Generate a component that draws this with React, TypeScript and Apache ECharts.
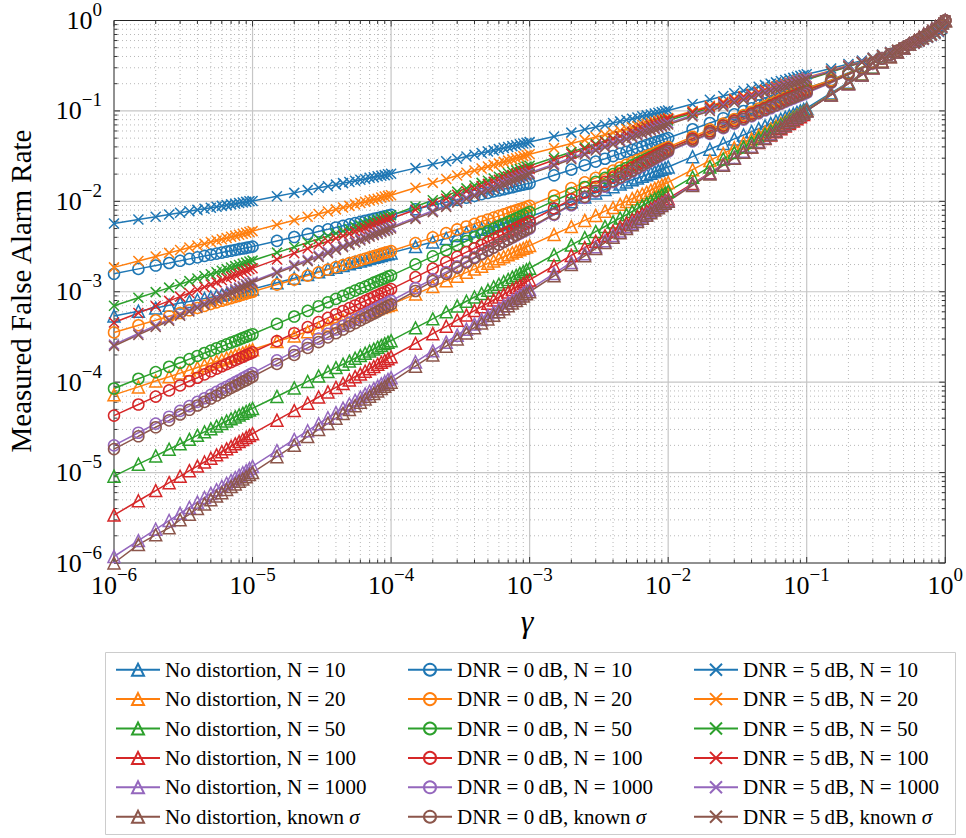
import React, { useEffect, useRef } from 'react';
import * as echarts from 'echarts';

// Detector threshold gamma (18 points per decade, linear steps of 0.5 within each decade)
const gamma = [
  1e-6, 1.5e-6, 2e-6, 2.5e-6, 3e-6, 3.5e-6, 4e-6, 4.5e-6, 5e-6, 5.5e-6, 6e-6, 6.5e-6, 7e-6, 7.5e-6, 8e-6, 8.5e-6, 9e-6, 9.5e-6,
  1e-5, 1.5e-5, 2e-5, 2.5e-5, 3e-5, 3.5e-5, 4e-5, 4.5e-5, 5e-5, 5.5e-5, 6e-5, 6.5e-5, 7e-5, 7.5e-5, 8e-5, 8.5e-5, 9e-5, 9.5e-5,
  1e-4, 1.5e-4, 2e-4, 2.5e-4, 3e-4, 3.5e-4, 4e-4, 4.5e-4, 5e-4, 5.5e-4, 6e-4, 6.5e-4, 7e-4, 7.5e-4, 8e-4, 8.5e-4, 9e-4, 9.5e-4,
  1e-3, 1.5e-3, 2e-3, 2.5e-3, 3e-3, 3.5e-3, 4e-3, 4.5e-3, 5e-3, 5.5e-3, 6e-3, 6.5e-3, 7e-3, 7.5e-3, 8e-3, 8.5e-3, 9e-3, 9.5e-3,
  1e-2, 1.5e-2, 2e-2, 2.5e-2, 3e-2, 3.5e-2, 4e-2, 4.5e-2, 5e-2, 5.5e-2, 6e-2, 6.5e-2, 7e-2, 7.5e-2, 8e-2, 8.5e-2, 9e-2, 9.5e-2,
  0.1, 0.15, 0.2, 0.25, 0.3, 0.35, 0.4, 0.45, 0.5, 0.55, 0.6, 0.65, 0.7, 0.75, 0.8, 0.85, 0.9, 0.95, 1,
];

// No distortion
const noDistN10 = [
  5.4e-4, 6.1e-4, 6.6e-4, 7.1e-4, 7.5e-4, 7.8e-4, 8.1e-4, 8.4e-4, 8.7e-4, 9.0e-4, 9.2e-4, 9.4e-4, 9.6e-4, 9.8e-4, 1.0e-3, 1.02e-3, 1.04e-3, 1.05e-3,
  1.07e-3, 1.26e-3, 1.41e-3, 1.55e-3, 1.66e-3, 1.77e-3, 1.87e-3, 1.95e-3, 2.04e-3, 2.12e-3, 2.19e-3, 2.26e-3, 2.33e-3, 2.40e-3, 2.46e-3, 2.52e-3, 2.58e-3, 2.64e-3,
  2.69e-3, 3.16e-3, 3.55e-3, 3.88e-3, 4.18e-3, 4.45e-3, 4.69e-3, 4.91e-3, 5.13e-3, 5.32e-3, 5.51e-3, 5.69e-3, 5.86e-3, 6.03e-3, 6.18e-3, 6.34e-3, 6.49e-3, 6.62e-3,
  6.76e-3, 8.45e-3, 9.91e-3, 1.12e-2, 1.24e-2, 1.35e-2, 1.45e-2, 1.55e-2, 1.64e-2, 1.73e-2, 1.81e-2, 1.89e-2, 1.97e-2, 2.05e-2, 2.12e-2, 2.19e-2, 2.26e-2, 2.33e-2,
  2.40e-2, 3.12e-2, 3.77e-2, 4.36e-2, 4.90e-2, 5.42e-2, 5.90e-2, 6.37e-2, 6.82e-2, 7.26e-2, 7.69e-2, 8.09e-2, 8.49e-2, 8.89e-2, 9.27e-2, 9.64e-2, 0.100, 0.104,
  0.107, 0.158, 0.207, 0.256, 0.305, 0.353, 0.402, 0.451, 0.5, 0.549, 0.598, 0.647, 0.695, 0.744, 0.793, 0.842, 0.893, 0.94, 1,
];
const noDistN20 = [
  7.24e-5, 8.87e-5, 1.03e-4, 1.15e-4, 1.26e-4, 1.36e-4, 1.45e-4, 1.54e-4, 1.62e-4, 1.70e-4, 1.77e-4, 1.85e-4, 1.92e-4, 1.99e-4, 2.05e-4, 2.11e-4, 2.17e-4, 2.23e-4,
  2.29e-4, 2.81e-4, 3.24e-4, 3.62e-4, 3.97e-4, 4.29e-4, 4.58e-4, 4.86e-4, 5.12e-4, 5.37e-4, 5.61e-4, 5.83e-4, 6.07e-4, 6.28e-4, 6.49e-4, 6.68e-4, 6.87e-4, 7.06e-4,
  7.24e-4, 9.42e-4, 1.14e-3, 1.32e-3, 1.48e-3, 1.64e-3, 1.78e-3, 1.92e-3, 2.06e-3, 2.19e-3, 2.32e-3, 2.44e-3, 2.56e-3, 2.69e-3, 2.80e-3, 2.91e-3, 3.02e-3, 3.13e-3,
  3.24e-3, 4.30e-3, 5.26e-3, 6.15e-3, 6.98e-3, 7.78e-3, 8.53e-3, 9.27e-3, 9.98e-3, 1.07e-2, 1.14e-2, 1.20e-2, 1.26e-2, 1.33e-2, 1.39e-2, 1.45e-2, 1.51e-2, 1.56e-2,
  1.62e-2, 2.24e-2, 2.82e-2, 3.37e-2, 3.91e-2, 4.42e-2, 4.92e-2, 5.40e-2, 5.87e-2, 6.34e-2, 6.81e-2, 7.24e-2, 7.69e-2, 8.13e-2, 8.55e-2, 8.99e-2, 9.40e-2, 9.82e-2,
  0.103, 0.154, 0.204, 0.254, 0.303, 0.352, 0.401, 0.45, 0.5, 0.55, 0.599, 0.648, 0.697, 0.746, 0.796, 0.846, 0.897, 0.948, 1,
];
const noDistN50 = [
  9.12e-6, 1.24e-5, 1.53e-5, 1.81e-5, 2.08e-5, 2.33e-5, 2.58e-5, 2.82e-5, 3.05e-5, 3.27e-5, 3.50e-5, 3.72e-5, 3.93e-5, 4.13e-5, 4.34e-5, 4.54e-5, 4.74e-5, 4.93e-5,
  5.13e-5, 6.95e-5, 8.63e-5, 1.02e-4, 1.17e-4, 1.31e-4, 1.45e-4, 1.58e-4, 1.71e-4, 1.84e-4, 1.97e-4, 2.09e-4, 2.21e-4, 2.32e-4, 2.44e-4, 2.55e-4, 2.67e-4, 2.77e-4,
  2.88e-4, 3.99e-4, 5.02e-4, 6.0e-4, 6.95e-4, 7.85e-4, 8.75e-4, 9.59e-4, 1.04e-3, 1.13e-3, 1.21e-3, 1.29e-3, 1.37e-3, 1.45e-3, 1.52e-3, 1.60e-3, 1.67e-3, 1.75e-3,
  1.82e-3, 2.57e-3, 3.28e-3, 3.96e-3, 4.63e-3, 5.27e-3, 5.92e-3, 6.53e-3, 7.14e-3, 7.74e-3, 8.34e-3, 8.93e-3, 9.51e-3, 1.01e-2, 1.07e-2, 1.12e-2, 1.18e-2, 1.23e-2,
  1.29e-2, 1.85e-2, 2.40e-2, 2.94e-2, 3.46e-2, 3.98e-2, 4.49e-2, 4.99e-2, 5.48e-2, 5.97e-2, 6.46e-2, 6.95e-2, 7.43e-2, 7.91e-2, 8.37e-2, 8.83e-2, 9.31e-2, 9.77e-2,
  0.102, 0.152, 0.202, 0.252, 0.302, 0.351, 0.401, 0.45, 0.5, 0.55, 0.599, 0.649, 0.698, 0.748, 0.798, 0.848, 0.898, 0.948, 1,
];
const noDistN100 = [
  3.39e-6, 4.88e-6, 6.32e-6, 7.73e-6, 9.10e-6, 1.05e-5, 1.18e-5, 1.31e-5, 1.44e-5, 1.57e-5, 1.70e-5, 1.83e-5, 1.95e-5, 2.08e-5, 2.20e-5, 2.32e-5, 2.45e-5, 2.57e-5,
  2.69e-5, 3.80e-5, 4.85e-5, 5.86e-5, 6.85e-5, 7.80e-5, 8.75e-5, 9.66e-5, 1.06e-4, 1.15e-4, 1.23e-4, 1.32e-4, 1.41e-4, 1.49e-4, 1.58e-4, 1.66e-4, 1.74e-4, 1.82e-4,
  1.91e-4, 2.69e-4, 3.44e-4, 4.15e-4, 4.85e-4, 5.52e-4, 6.19e-4, 6.84e-4, 7.48e-4, 8.11e-4, 8.73e-4, 9.35e-4, 9.95e-4, 1.06e-3, 1.12e-3, 1.17e-3, 1.23e-3, 1.29e-3,
  1.35e-3, 1.94e-3, 2.52e-3, 3.07e-3, 3.62e-3, 4.17e-3, 4.70e-3, 5.22e-3, 5.74e-3, 6.25e-3, 6.76e-3, 7.28e-3, 7.78e-3, 8.28e-3, 8.77e-3, 9.25e-3, 9.75e-3, 1.02e-2,
  1.07e-2, 1.57e-2, 2.07e-2, 2.56e-2, 3.04e-2, 3.52e-2, 4.0e-2, 4.48e-2, 4.94e-2, 5.41e-2, 5.87e-2, 6.34e-2, 6.81e-2, 7.26e-2, 7.73e-2, 8.18e-2, 8.63e-2, 9.10e-2,
  0.101, 0.151, 0.201, 0.251, 0.301, 0.351, 0.4, 0.45, 0.5, 0.55, 0.6, 0.649, 0.699, 0.749, 0.799, 0.849, 0.899, 0.949, 1,
];
const noDistN1000 = [
  1.18e-6, 1.77e-6, 2.36e-6, 2.95e-6, 3.54e-6, 4.12e-6, 4.71e-6, 5.3e-6, 5.88e-6, 6.46e-6, 7.04e-6, 7.62e-6, 8.2e-6, 8.78e-6, 9.37e-6, 9.95e-6, 1.05e-5, 1.11e-5,
  1.17e-5, 1.75e-5, 2.33e-5, 2.9e-5, 3.47e-5, 4.04e-5, 4.6e-5, 5.17e-5, 5.73e-5, 6.29e-5, 6.84e-5, 7.39e-5, 7.94e-5, 8.49e-5, 9.04e-5, 9.58e-5, 1.01e-4, 1.07e-4,
  1.12e-4, 1.67e-4, 2.22e-4, 2.77e-4, 3.31e-4, 3.85e-4, 4.39e-4, 4.92e-4, 5.45e-4, 5.98e-4, 6.5e-4, 7.02e-4, 7.54e-4, 8.06e-4, 8.57e-4, 9.08e-4, 9.59e-4, 1.01e-3,
  1.06e-3, 1.59e-3, 2.11e-3, 2.63e-3, 3.15e-3, 3.67e-3, 4.19e-3, 4.7e-3, 5.22e-3, 5.73e-3, 6.24e-3, 6.75e-3, 7.26e-3, 7.77e-3, 8.27e-3, 8.78e-3, 9.28e-3, 9.79e-3,
  1.025e-2, 1.54e-2, 2.05e-2, 2.55e-2, 3.06e-2, 3.57e-2, 4.07e-2, 4.58e-2, 5.08e-2, 5.58e-2, 6.08e-2, 6.59e-2, 7.09e-2, 7.59e-2, 8.09e-2, 8.59e-2, 9.09e-2, 9.57e-2,
  0.1005, 0.1505, 0.2, 0.25, 0.3, 0.35, 0.4, 0.45, 0.5, 0.55, 0.6, 0.65, 0.7, 0.75, 0.8, 0.85, 0.9, 0.95, 1,
];
const noDistKnown = [
  1.0e-6, 1.6e-6, 2.05e-6, 2.45e-6, 3.0e-6, 3.45e-6, 4.0e-6, 4.5e-6, 5.0e-6, 5.5e-6, 6.0e-6, 6.5e-6, 7.0e-6, 7.5e-6, 8.0e-6, 8.5e-6, 9.0e-6, 9.5e-6,
  1e-5, 1.5e-5, 2e-5, 2.5e-5, 3e-5, 3.5e-5, 4e-5, 4.5e-5, 5e-5, 5.5e-5, 6e-5, 6.5e-5, 7e-5, 7.5e-5, 8e-5, 8.5e-5, 9e-5, 9.5e-5,
  1e-4, 1.5e-4, 2e-4, 2.5e-4, 3e-4, 3.5e-4, 4e-4, 4.5e-4, 5e-4, 5.5e-4, 6e-4, 6.5e-4, 7e-4, 7.5e-4, 8e-4, 8.5e-4, 9e-4, 9.5e-4,
  1e-3, 1.5e-3, 2e-3, 2.5e-3, 3e-3, 3.5e-3, 4e-3, 4.5e-3, 5e-3, 5.5e-3, 6e-3, 6.5e-3, 7e-3, 7.5e-3, 8e-3, 8.5e-3, 9e-3, 9.5e-3,
  1e-2, 1.5e-2, 2e-2, 2.5e-2, 3e-2, 3.5e-2, 4e-2, 4.5e-2, 5e-2, 5.5e-2, 6e-2, 6.5e-2, 7e-2, 7.5e-2, 8e-2, 8.5e-2, 9e-2, 9.5e-2,
  0.1, 0.15, 0.2, 0.25, 0.3, 0.35, 0.4, 0.45, 0.5, 0.55, 0.6, 0.65, 0.7, 0.75, 0.8, 0.85, 0.9, 0.95, 1,
];

// DNR = 0 dB
const dnr0N10 = [
  1.58e-3, 1.79e-3, 1.95e-3, 2.08e-3, 2.20e-3, 2.31e-3, 2.40e-3, 2.49e-3, 2.57e-3, 2.64e-3, 2.71e-3, 2.78e-3, 2.84e-3, 2.90e-3, 2.96e-3, 3.01e-3, 3.06e-3, 3.11e-3,
  3.16e-3, 3.65e-3, 4.03e-3, 4.36e-3, 4.65e-3, 4.90e-3, 5.14e-3, 5.36e-3, 5.56e-3, 5.74e-3, 5.92e-3, 6.10e-3, 6.25e-3, 6.40e-3, 6.55e-3, 6.68e-3, 6.82e-3, 6.95e-3,
  7.08e-3, 8.17e-3, 9.02e-3, 9.75e-3, 1.04e-2, 1.10e-2, 1.15e-2, 1.20e-2, 1.24e-2, 1.29e-2, 1.32e-2, 1.36e-2, 1.40e-2, 1.43e-2, 1.47e-2, 1.50e-2, 1.53e-2, 1.56e-2,
  1.58e-2, 1.94e-2, 2.24e-2, 2.51e-2, 2.75e-2, 2.96e-2, 3.17e-2, 3.37e-2, 3.54e-2, 3.72e-2, 3.88e-2, 4.04e-2, 4.20e-2, 4.35e-2, 4.49e-2, 4.62e-2, 4.75e-2, 4.89e-2,
  5.01e-2, 6.27e-2, 7.35e-2, 8.30e-2, 9.16e-2, 9.98e-2, 0.107, 0.115, 0.121, 0.128, 0.134, 0.140, 0.146, 0.152, 0.157, 0.163, 0.168, 0.173,
  0.178, 0.22, 0.265, 0.305, 0.345, 0.385, 0.425, 0.463, 0.5, 0.537, 0.575, 0.615, 0.655, 0.695, 0.735, 0.78, 0.822, 0.879, 1,
];
const dnr0N20 = [
  3.55e-4, 4.26e-4, 4.84e-4, 5.36e-4, 5.82e-4, 6.24e-4, 6.62e-4, 6.98e-4, 7.33e-4, 7.64e-4, 7.94e-4, 8.24e-4, 8.51e-4, 8.79e-4, 9.04e-4, 9.29e-4, 9.53e-4, 9.77e-4,
  1.0e-3, 1.20e-3, 1.36e-3, 1.51e-3, 1.64e-3, 1.76e-3, 1.87e-3, 1.97e-3, 2.07e-3, 2.15e-3, 2.24e-3, 2.32e-3, 2.40e-3, 2.48e-3, 2.55e-3, 2.62e-3, 2.69e-3, 2.75e-3,
  2.82e-3, 3.45e-3, 3.99e-3, 4.46e-3, 4.89e-3, 5.27e-3, 5.64e-3, 5.98e-3, 6.30e-3, 6.61e-3, 6.90e-3, 7.18e-3, 7.46e-3, 7.73e-3, 7.98e-3, 8.22e-3, 8.45e-3, 8.69e-3,
  8.91e-3, 1.16e-2, 1.40e-2, 1.62e-2, 1.82e-2, 2.01e-2, 2.19e-2, 2.37e-2, 2.54e-2, 2.70e-2, 2.86e-2, 3.01e-2, 3.16e-2, 3.30e-2, 3.44e-2, 3.58e-2, 3.72e-2, 3.85e-2,
  3.98e-2, 5.18e-2, 6.25e-2, 7.23e-2, 8.13e-2, 8.99e-2, 9.79e-2, 0.106, 0.113, 0.121, 0.128, 0.134, 0.141, 0.148, 0.154, 0.160, 0.166, 0.172,
  0.178, 0.218, 0.262, 0.302, 0.343, 0.383, 0.423, 0.462, 0.5, 0.538, 0.577, 0.617, 0.657, 0.698, 0.738, 0.782, 0.822, 0.887, 1,
];
const dnr0N50 = [
  8.51e-5, 1.09e-4, 1.29e-4, 1.48e-4, 1.64e-4, 1.80e-4, 1.95e-4, 2.10e-4, 2.23e-4, 2.37e-4, 2.49e-4, 2.62e-4, 2.74e-4, 2.85e-4, 2.96e-4, 3.08e-4, 3.18e-4, 3.29e-4,
  3.39e-4, 4.41e-4, 5.32e-4, 6.15e-4, 6.92e-4, 7.66e-4, 8.34e-4, 8.99e-4, 9.64e-4, 1.03e-3, 1.09e-3, 1.14e-3, 1.20e-3, 1.26e-3, 1.31e-3, 1.36e-3, 1.41e-3, 1.47e-3,
  1.51e-3, 2.01e-3, 2.46e-3, 2.88e-3, 3.27e-3, 3.64e-3, 3.99e-3, 4.34e-3, 4.67e-3, 4.99e-3, 5.31e-3, 5.61e-3, 5.92e-3, 6.21e-3, 6.49e-3, 6.78e-3, 7.05e-3, 7.31e-3,
  7.59e-3, 1.01e-2, 1.23e-2, 1.44e-2, 1.64e-2, 1.82e-2, 2.0e-2, 2.17e-2, 2.34e-2, 2.50e-2, 2.66e-2, 2.81e-2, 2.96e-2, 3.11e-2, 3.25e-2, 3.40e-2, 3.53e-2, 3.66e-2,
  3.80e-2, 4.94e-2, 5.97e-2, 6.90e-2, 7.76e-2, 8.59e-2, 9.35e-2, 0.101, 0.108, 0.115, 0.122, 0.128, 0.135, 0.141, 0.147, 0.153, 0.158, 0.164,
  0.17, 0.212, 0.258, 0.298, 0.34, 0.38, 0.42, 0.46, 0.5, 0.54, 0.58, 0.62, 0.66, 0.702, 0.742, 0.788, 0.83, 0.892, 1,
];
const dnr0N100 = [
  4.27e-5, 5.66e-5, 6.93e-5, 8.11e-5, 9.20e-5, 1.03e-4, 1.12e-4, 1.22e-4, 1.32e-4, 1.41e-4, 1.50e-4, 1.58e-4, 1.67e-4, 1.75e-4, 1.83e-4, 1.91e-4, 1.99e-4, 2.06e-4,
  2.14e-4, 2.84e-4, 3.48e-4, 4.06e-4, 4.61e-4, 5.14e-4, 5.64e-4, 6.12e-4, 6.59e-4, 7.05e-4, 7.50e-4, 7.93e-4, 8.36e-4, 8.77e-4, 9.16e-4, 9.57e-4, 9.95e-4, 1.03e-3,
  1.07e-3, 1.45e-3, 1.80e-3, 2.13e-3, 2.44e-3, 2.74e-3, 3.03e-3, 3.31e-3, 3.58e-3, 3.85e-3, 4.11e-3, 4.37e-3, 4.61e-3, 4.85e-3, 5.09e-3, 5.33e-3, 5.57e-3, 5.79e-3,
  6.03e-3, 8.34e-3, 1.05e-2, 1.25e-2, 1.45e-2, 1.64e-2, 1.83e-2, 2.0e-2, 2.18e-2, 2.36e-2, 2.53e-2, 2.69e-2, 2.86e-2, 3.02e-2, 3.18e-2, 3.34e-2, 3.49e-2, 3.65e-2,
  3.80e-2, 4.93e-2, 5.95e-2, 6.88e-2, 7.75e-2, 8.57e-2, 9.33e-2, 0.1, 0.107, 0.114, 0.121, 0.128, 0.134, 0.14, 0.146, 0.152, 0.158, 0.164,
  0.17, 0.211, 0.256, 0.297, 0.339, 0.379, 0.419, 0.46, 0.5, 0.54, 0.581, 0.621, 0.661, 0.703, 0.744, 0.789, 0.83, 0.892, 1,
];
const dnr0N1000 = [
  2.0e-5, 2.76e-5, 3.48e-5, 4.15e-5, 4.81e-5, 5.43e-5, 6.05e-5, 6.64e-5, 7.23e-5, 7.80e-5, 8.38e-5, 8.91e-5, 9.46e-5, 1.0e-4, 1.05e-4, 1.11e-4, 1.16e-4, 1.21e-4,
  1.26e-4, 1.74e-4, 2.19e-4, 2.62e-4, 3.03e-4, 3.43e-4, 3.82e-4, 4.19e-4, 4.56e-4, 4.92e-4, 5.28e-4, 5.62e-4, 5.97e-4, 6.31e-4, 6.64e-4, 6.98e-4, 7.29e-4, 7.62e-4,
  7.94e-4, 1.10e-3, 1.38e-3, 1.65e-3, 1.91e-3, 2.16e-3, 2.41e-3, 2.64e-3, 2.88e-3, 3.10e-3, 3.33e-3, 3.55e-3, 3.77e-3, 3.98e-3, 4.19e-3, 4.41e-3, 4.60e-3, 4.81e-3,
  5.01e-3, 7.08e-3, 9.04e-3, 1.09e-2, 1.28e-2, 1.45e-2, 1.63e-2, 1.80e-2, 1.97e-2, 2.13e-2, 2.30e-2, 2.46e-2, 2.62e-2, 2.78e-2, 2.94e-2, 3.09e-2, 3.24e-2, 3.40e-2,
  3.55e-2, 4.61e-2, 5.57e-2, 6.44e-2, 7.24e-2, 8.02e-2, 8.73e-2, 9.42e-2, 0.101, 0.107, 0.114, 0.120, 0.126, 0.132, 0.137, 0.143, 0.148, 0.153,
  0.158, 0.205, 0.252, 0.294, 0.336, 0.377, 0.418, 0.459, 0.5, 0.541, 0.582, 0.623, 0.664, 0.706, 0.748, 0.795, 0.842, 0.899, 1,
];
const dnr0Known = [
  1.82e-5, 2.52e-5, 3.17e-5, 3.78e-5, 4.39e-5, 4.95e-5, 5.52e-5, 6.05e-5, 6.59e-5, 7.11e-5, 7.64e-5, 8.13e-5, 8.63e-5, 9.12e-5, 9.59e-5, 1.01e-4, 1.05e-4, 1.10e-4,
  1.15e-4, 1.59e-4, 2.0e-4, 2.39e-4, 2.77e-4, 3.13e-4, 3.48e-4, 3.82e-4, 4.16e-4, 4.49e-4, 4.82e-4, 5.13e-4, 5.44e-4, 5.75e-4, 6.05e-4, 6.37e-4, 6.65e-4, 6.95e-4,
  7.24e-4, 1.02e-3, 1.31e-3, 1.58e-3, 1.85e-3, 2.10e-3, 2.36e-3, 2.60e-3, 2.84e-3, 3.08e-3, 3.32e-3, 3.56e-3, 3.78e-3, 4.02e-3, 4.25e-3, 4.47e-3, 4.69e-3, 4.91e-3,
  5.13e-3, 7.24e-3, 9.25e-3, 1.12e-2, 1.31e-2, 1.49e-2, 1.67e-2, 1.84e-2, 2.01e-2, 2.18e-2, 2.35e-2, 2.52e-2, 2.68e-2, 2.84e-2, 3.01e-2, 3.16e-2, 3.32e-2, 3.48e-2,
  3.63e-2, 4.72e-2, 5.70e-2, 6.59e-2, 7.41e-2, 8.20e-2, 8.93e-2, 9.64e-2, 0.103, 0.110, 0.116, 0.122, 0.129, 0.135, 0.140, 0.146, 0.151, 0.157,
  0.162, 0.207, 0.253, 0.295, 0.337, 0.378, 0.419, 0.459, 0.5, 0.541, 0.581, 0.622, 0.663, 0.705, 0.747, 0.793, 0.838, 0.897, 1,
];

// DNR = 5 dB
const dnr5N10 = [
  5.69e-3, 6.30e-3, 6.76e-3, 7.16e-3, 7.48e-3, 7.78e-3, 8.05e-3, 8.28e-3, 8.51e-3, 8.71e-3, 8.91e-3, 9.08e-3, 9.25e-3, 9.42e-3, 9.57e-3, 9.70e-3, 9.86e-3, 1.0e-2,
  1.01e-2, 1.14e-2, 1.24e-2, 1.33e-2, 1.41e-2, 1.47e-2, 1.53e-2, 1.59e-2, 1.64e-2, 1.69e-2, 1.73e-2, 1.77e-2, 1.82e-2, 1.85e-2, 1.89e-2, 1.92e-2, 1.95e-2, 1.99e-2,
  2.02e-2, 2.33e-2, 2.57e-2, 2.78e-2, 2.96e-2, 3.13e-2, 3.28e-2, 3.42e-2, 3.55e-2, 3.66e-2, 3.78e-2, 3.89e-2, 3.99e-2, 4.08e-2, 4.18e-2, 4.27e-2, 4.36e-2, 4.44e-2,
  4.52e-2, 5.21e-2, 5.75e-2, 6.22e-2, 6.64e-2, 7.0e-2, 7.35e-2, 7.66e-2, 7.94e-2, 8.20e-2, 8.45e-2, 8.71e-2, 8.93e-2, 9.14e-2, 9.35e-2, 9.55e-2, 9.75e-2, 9.93e-2,
  0.101, 0.119, 0.133, 0.146, 0.157, 0.167, 0.176, 0.185, 0.193, 0.200, 0.207, 0.214, 0.220, 0.226, 0.232, 0.238, 0.244, 0.249,
  0.254, 0.295, 0.33, 0.36, 0.39, 0.42, 0.45, 0.475, 0.5, 0.525, 0.55, 0.58, 0.61, 0.64, 0.67, 0.705, 0.746, 0.807, 1,
];
const dnr5N20 = [
  1.86e-3, 2.19e-3, 2.45e-3, 2.69e-3, 2.89e-3, 3.08e-3, 3.24e-3, 3.40e-3, 3.55e-3, 3.68e-3, 3.81e-3, 3.94e-3, 4.06e-3, 4.17e-3, 4.28e-3, 4.39e-3, 4.49e-3, 4.58e-3,
  4.68e-3, 5.50e-3, 6.17e-3, 6.75e-3, 7.26e-3, 7.73e-3, 8.15e-3, 8.53e-3, 8.91e-3, 9.25e-3, 9.57e-3, 9.89e-3, 1.02e-2, 1.05e-2, 1.07e-2, 1.10e-2, 1.13e-2, 1.15e-2,
  1.17e-2, 1.41e-2, 1.60e-2, 1.77e-2, 1.93e-2, 2.07e-2, 2.19e-2, 2.31e-2, 2.43e-2, 2.53e-2, 2.63e-2, 2.73e-2, 2.82e-2, 2.91e-2, 2.99e-2, 3.08e-2, 3.16e-2, 3.24e-2,
  3.31e-2, 3.89e-2, 4.37e-2, 4.78e-2, 5.14e-2, 5.47e-2, 5.77e-2, 6.04e-2, 6.31e-2, 6.55e-2, 6.78e-2, 7.0e-2, 7.21e-2, 7.41e-2, 7.60e-2, 7.80e-2, 7.98e-2, 8.15e-2,
  8.32e-2, 9.98e-2, 0.114, 0.126, 0.136, 0.146, 0.155, 0.164, 0.172, 0.179, 0.186, 0.193, 0.200, 0.206, 0.212, 0.218, 0.223, 0.229,
  0.234, 0.28, 0.32, 0.35, 0.385, 0.415, 0.445, 0.473, 0.5, 0.527, 0.555, 0.585, 0.615, 0.65, 0.68, 0.72, 0.766, 0.828, 1,
];
const dnr5N50 = [
  7.0e-4, 8.57e-4, 9.91e-4, 1.11e-3, 1.21e-3, 1.31e-3, 1.40e-3, 1.49e-3, 1.56e-3, 1.64e-3, 1.71e-3, 1.78e-3, 1.85e-3, 1.92e-3, 1.98e-3, 2.04e-3, 2.10e-3, 2.16e-3,
  2.21e-3, 2.71e-3, 3.13e-3, 3.50e-3, 3.84e-3, 4.14e-3, 4.43e-3, 4.70e-3, 4.94e-3, 5.19e-3, 5.42e-3, 5.64e-3, 5.86e-3, 6.07e-3, 6.27e-3, 6.46e-3, 6.64e-3, 6.82e-3,
  7.0e-3, 8.75e-3, 1.03e-2, 1.16e-2, 1.28e-2, 1.39e-2, 1.50e-2, 1.60e-2, 1.69e-2, 1.79e-2, 1.87e-2, 1.96e-2, 2.04e-2, 2.12e-2, 2.20e-2, 2.27e-2, 2.34e-2, 2.42e-2,
  2.48e-2, 3.04e-2, 3.52e-2, 3.93e-2, 4.31e-2, 4.65e-2, 4.97e-2, 5.27e-2, 5.55e-2, 5.82e-2, 6.08e-2, 6.32e-2, 6.58e-2, 6.81e-2, 7.03e-2, 7.24e-2, 7.45e-2, 7.66e-2,
  7.85e-2, 9.42e-2, 0.107, 0.119, 0.129, 0.138, 0.147, 0.155, 0.162, 0.169, 0.176, 0.182, 0.188, 0.195, 0.200, 0.206, 0.211, 0.216,
  0.221, 0.27, 0.31, 0.345, 0.38, 0.41, 0.44, 0.47, 0.5, 0.53, 0.56, 0.59, 0.62, 0.655, 0.69, 0.73, 0.779, 0.838, 1,
];
const dnr5N100 = [
  4.57e-4, 5.83e-4, 6.93e-4, 7.93e-4, 8.83e-4, 9.68e-4, 1.05e-3, 1.13e-3, 1.20e-3, 1.27e-3, 1.34e-3, 1.41e-3, 1.47e-3, 1.53e-3, 1.59e-3, 1.65e-3, 1.71e-3, 1.77e-3,
  1.82e-3, 2.28e-3, 2.67e-3, 3.01e-3, 3.33e-3, 3.62e-3, 3.90e-3, 4.16e-3, 4.41e-3, 4.65e-3, 4.88e-3, 5.09e-3, 5.31e-3, 5.51e-3, 5.71e-3, 5.90e-3, 6.10e-3, 6.28e-3,
  6.46e-3, 8.07e-3, 9.46e-3, 1.07e-2, 1.18e-2, 1.29e-2, 1.38e-2, 1.48e-2, 1.56e-2, 1.65e-2, 1.73e-2, 1.81e-2, 1.88e-2, 1.95e-2, 2.03e-2, 2.09e-2, 2.16e-2, 2.23e-2,
  2.29e-2, 2.86e-2, 3.36e-2, 3.79e-2, 4.19e-2, 4.56e-2, 4.91e-2, 5.24e-2, 5.55e-2, 5.85e-2, 6.14e-2, 6.41e-2, 6.68e-2, 6.93e-2, 7.19e-2, 7.43e-2, 7.67e-2, 7.91e-2,
  8.13e-2, 9.75e-2, 0.111, 0.123, 0.133, 0.143, 0.152, 0.160, 0.168, 0.175, 0.182, 0.189, 0.195, 0.201, 0.207, 0.213, 0.218, 0.224,
  0.229, 0.275, 0.315, 0.347, 0.382, 0.412, 0.442, 0.471, 0.5, 0.529, 0.558, 0.588, 0.618, 0.653, 0.685, 0.725, 0.771, 0.832, 1,
];
const dnr5N1000 = [
  2.60e-4, 3.45e-4, 4.23e-4, 4.94e-4, 5.61e-4, 6.25e-4, 6.85e-4, 7.45e-4, 8.02e-4, 8.57e-4, 9.12e-4, 9.64e-4, 1.02e-3, 1.07e-3, 1.11e-3, 1.16e-3, 1.21e-3, 1.26e-3,
  1.30e-3, 1.66e-3, 1.98e-3, 2.26e-3, 2.52e-3, 2.76e-3, 2.99e-3, 3.21e-3, 3.42e-3, 3.62e-3, 3.82e-3, 4.01e-3, 4.19e-3, 4.37e-3, 4.54e-3, 4.71e-3, 4.88e-3, 5.04e-3,
  5.19e-3, 6.62e-3, 7.87e-3, 8.99e-3, 1.0e-2, 1.10e-2, 1.19e-2, 1.28e-2, 1.36e-2, 1.44e-2, 1.52e-2, 1.60e-2, 1.67e-2, 1.74e-2, 1.81e-2, 1.87e-2, 1.94e-2, 2.0e-2,
  2.07e-2, 2.58e-2, 3.03e-2, 3.42e-2, 3.78e-2, 4.11e-2, 4.43e-2, 4.72e-2, 5.0e-2, 5.27e-2, 5.53e-2, 5.78e-2, 6.03e-2, 6.25e-2, 6.49e-2, 6.70e-2, 6.92e-2, 7.13e-2,
  7.33e-2, 8.97e-2, 0.104, 0.116, 0.127, 0.137, 0.147, 0.156, 0.164, 0.172, 0.179, 0.187, 0.194, 0.201, 0.207, 0.214, 0.220, 0.226,
  0.232, 0.277, 0.317, 0.349, 0.383, 0.413, 0.443, 0.472, 0.5, 0.528, 0.557, 0.587, 0.617, 0.651, 0.683, 0.723, 0.768, 0.836, 1,
];
const dnr5Known = [
  2.51e-4, 3.33e-4, 4.08e-4, 4.78e-4, 5.42e-4, 6.04e-4, 6.62e-4, 7.19e-4, 7.74e-4, 8.28e-4, 8.81e-4, 9.31e-4, 9.82e-4, 1.03e-3, 1.08e-3, 1.12e-3, 1.17e-3, 1.21e-3,
  1.26e-3, 1.61e-3, 1.91e-3, 2.18e-3, 2.43e-3, 2.67e-3, 2.89e-3, 3.10e-3, 3.30e-3, 3.50e-3, 3.69e-3, 3.87e-3, 4.05e-3, 4.22e-3, 4.39e-3, 4.55e-3, 4.71e-3, 4.86e-3,
  5.01e-3, 6.40e-3, 7.60e-3, 8.69e-3, 9.68e-3, 1.06e-2, 1.15e-2, 1.24e-2, 1.32e-2, 1.39e-2, 1.47e-2, 1.54e-2, 1.61e-2, 1.68e-2, 1.75e-2, 1.81e-2, 1.87e-2, 1.94e-2,
  2.0e-2, 2.49e-2, 2.92e-2, 3.30e-2, 3.65e-2, 3.97e-2, 4.28e-2, 4.56e-2, 4.83e-2, 5.09e-2, 5.35e-2, 5.58e-2, 5.82e-2, 6.04e-2, 6.27e-2, 6.47e-2, 6.68e-2, 6.89e-2,
  7.08e-2, 8.67e-2, 0.100, 0.112, 0.123, 0.132, 0.142, 0.150, 0.158, 0.166, 0.173, 0.180, 0.188, 0.194, 0.200, 0.207, 0.212, 0.218,
  0.224, 0.272, 0.312, 0.346, 0.38, 0.41, 0.44, 0.47, 0.5, 0.53, 0.56, 0.59, 0.62, 0.654, 0.688, 0.728, 0.776, 0.842, 1,
];

const sizeLabels = ['N = 10', 'N = 20', 'N = 50', 'N = 100', 'N = 1000', 'known σ'];
const COLORS = ['#1f77b4', '#ff7f0e', '#2ca02c', '#d62728', '#9467bd', '#8c564b'];
const SERIF = "'Liberation Serif', 'Times New Roman', 'DejaVu Serif', serif";
const CROSS = 'path://M0,0L10,10M10,0L0,10';

const groups = [
  { prefix: 'No distortion, ', symbol: 'triangle', size: 12, values: [noDistN10, noDistN20, noDistN50, noDistN100, noDistN1000, noDistKnown] },
  { prefix: 'DNR = 0\u2009dB, ', symbol: 'circle', size: 11, values: [dnr0N10, dnr0N20, dnr0N50, dnr0N100, dnr0N1000, dnr0Known] },
  { prefix: 'DNR = 5\u2009dB, ', symbol: CROSS, size: 10, values: [dnr5N10, dnr5N20, dnr5N50, dnr5N100, dnr5N1000, dnr5Known] },
];

// decade and 2..9 sub-decade positions for grid lines and ticks
const DECADES = [-6, -5, -4, -3, -2, -1, 0];
const tickMarks: [number, number][] = [];
DECADES.forEach((e) => {
  tickMarks.push([Math.pow(10, e), 1]);
  if (e < 0) for (let m = 2; m <= 9; m++) tickMarks.push([m * Math.pow(10, e), 0]);
});

const PLOT = { left: 114, top: 19, width: 833, height: 544 };

function expLabel(v: number) {
  const e = Math.round(Math.log10(v));
  return `{b|10}{s|${e < 0 ? '\u2212' + -e : e}}`;
}

// the base "10" sits in the middle of a tall line box; the exponent hangs from its top
const labelRich = {
  b: { fontFamily: SERIF, fontSize: 26, color: '#000', lineHeight: 41, verticalAlign: 'middle' },
  s: { fontFamily: SERIF, fontSize: 19, color: '#000', lineHeight: 19, verticalAlign: 'top' },
};

function gridItem(horizontal: boolean) {
  return (_p: any, api: any) => {
    const v = api.value(horizontal ? 1 : 0);
    const major = api.value(2) === 1;
    const a = horizontal ? api.coord([1e-6, v]) : api.coord([v, 1e-6]);
    const b = horizontal ? api.coord([1, v]) : api.coord([v, 1]);
    const len = major ? 6 : 3.5;
    const children: any[] = [];
    if (v > 1.0001e-6 && v < 0.9999) {
      children.push({
        type: 'line',
        shape: { x1: a[0], y1: a[1], x2: b[0], y2: b[1] },
        style: major ? { stroke: '#c6c6c6', lineWidth: 1.2 } : { stroke: '#b8b8b8', lineWidth: 1, lineDash: [1, 3] },
      });
    }
    const tick = { stroke: '#333', lineWidth: 1 };
    if (horizontal) {
      children.push({ type: 'line', shape: { x1: a[0], y1: a[1], x2: a[0] + len, y2: a[1] }, style: tick });
      children.push({ type: 'line', shape: { x1: b[0], y1: b[1], x2: b[0] - len, y2: b[1] }, style: tick });
    } else {
      children.push({ type: 'line', shape: { x1: a[0], y1: a[1], x2: a[0], y2: a[1] - len }, style: tick });
      children.push({ type: 'line', shape: { x1: b[0], y1: b[1], x2: b[0], y2: b[1] + len }, style: tick });
    }
    return { type: 'group', children };
  };
}

function buildOption() {
  const series: any[] = [];
  const legends: any[] = [];
  const legendLefts = [115, 407, 693];

  // grid lines and ticks, placed through the axes' own coordinate mapping
  series.push({
    type: 'custom', silent: true, z: 1, clip: false,
    data: tickMarks.map(([v, major]) => [v, 1e-3, major]),
    encode: { x: 0, y: 1 },
    renderItem: gridItem(false),
  });
  series.push({
    type: 'custom', silent: true, z: 1, clip: false,
    data: tickMarks.map(([v, major]) => [1e-3, v, major]),
    encode: { x: 0, y: 1 },
    renderItem: gridItem(true),
  });

  groups.forEach((g, gi) => {
    const names: string[] = [];
    g.values.forEach((vals, i) => {
      const name = g.prefix + sizeLabels[i];
      names.push(name);
      series.push({
        type: 'line',
        name,
        data: gamma.map((x, j) => [x, vals[j]]),
        symbol: g.symbol,
        symbolSize: g.size,
        showSymbol: true,
        silent: true,
        z: 2,
        lineStyle: { color: COLORS[i], width: 1.5 },
        itemStyle: { color: 'rgba(0,0,0,0)', borderColor: COLORS[i], borderWidth: 1.5 },
        emphasis: { disabled: true },
      });
    });
    legends.push({
      data: names,
      orient: 'vertical',
      left: legendLefts[gi],
      top: 655,
      padding: 0,
      itemWidth: 44,
      itemHeight: 15,
      itemGap: 0,
      selectedMode: false,
      formatter: (n: string) => n.replace('σ', '{i|σ}'),
      textStyle: {
        fontFamily: SERIF,
        fontSize: 21,
        color: '#000',
        lineHeight: 29.4,
        rich: { i: { fontFamily: SERIF, fontSize: 21, fontStyle: 'italic', color: '#000', lineHeight: 29.4 } },
      },
    });
  });

  return {
    animation: false,
    backgroundColor: '#fff',
    grid: { ...PLOT, show: true, borderColor: '#222', borderWidth: 1, backgroundColor: 'transparent' },
    xAxis: {
      type: 'log', logBase: 10, min: 1e-6, max: 1, splitNumber: 6,
      axisLine: { show: false }, axisTick: { show: false }, splitLine: { show: false }, minorTick: { show: false },
      axisLabel: { formatter: expLabel, rich: labelRich, margin: 2 },
    },
    yAxis: {
      type: 'log', logBase: 10, min: 1e-6, max: 1, splitNumber: 6,
      axisLine: { show: false }, axisTick: { show: false }, splitLine: { show: false }, minorTick: { show: false },
      axisLabel: { formatter: expLabel, rich: labelRich, margin: 12 },
    },
    legend: legends,
    graphic: [
      {
        type: 'rect', z: 0,
        shape: { x: 105.5, y: 652.5, width: 850, height: 182 },
        style: { fill: '#fff', stroke: '#cccccc', lineWidth: 1 },
      },
      {
        type: 'text', x: 21, y: 291, rotation: Math.PI / 2,
        style: { text: 'Measured False Alarm Rate', fontFamily: SERIF, fontSize: 29, fill: '#000', align: 'center', verticalAlign: 'middle' },
      },
      {
        type: 'text', x: 527, y: 621,
        style: { text: 'γ', fontFamily: SERIF, fontSize: 32, fontStyle: 'italic', fill: '#000', align: 'center', verticalAlign: 'middle' },
      },
    ],
    series,
  };
}

export default function App() {
  const ref = useRef<HTMLDivElement>(null);
  useEffect(() => {
    if (!ref.current) return;
    const chart = echarts.init(ref.current, null, { renderer: 'svg' });
    chart.setOption(buildOption() as any);
    return () => chart.dispose();
  }, []);
  return <div ref={ref} style={{ position: 'absolute', left: 0, top: 0, width: 966, height: 838 }} />;
}
